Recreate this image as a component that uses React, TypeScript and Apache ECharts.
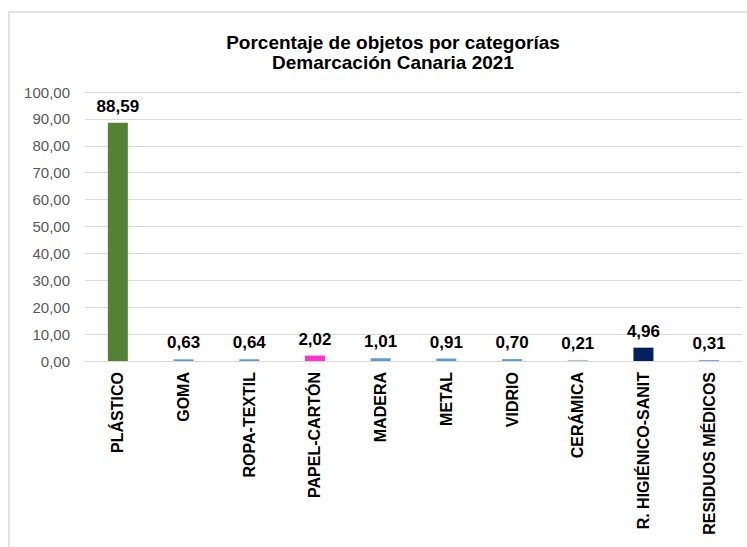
import React, { useEffect, useRef } from "react";
import * as echarts from "echarts";

const categories = [
  "PLÁSTICO",
  "GOMA",
  "ROPA-TEXTIL",
  "PAPEL-CARTÓN",
  "MADERA",
  "METAL",
  "VIDRIO",
  "CERÁMICA",
  "R. HIGIÉNICO-SANIT",
  "RESIDUOS MÉDICOS",
];
const values = [88.59, 0.63, 0.64, 2.02, 1.01, 0.91, 0.7, 0.21, 4.96, 0.31];
const barColors = [
  "#548235",
  "#5B9BD5",
  "#5B9BD5",
  "#FF33CC",
  "#5B9BD5",
  "#5B9BD5",
  "#5B9BD5",
  "#5B9BD5",
  "#002060",
  "#5B9BD5",
];
const titleLines = ["Porcentaje de objetos por categorías", "Demarcación Canaria 2021"];

const fmt = (v: number) => v.toFixed(2).replace(".", ",");
const FONT = "Liberation Sans, Arial, sans-serif";

export default function App() {
  const ref = useRef<HTMLDivElement>(null);
  useEffect(() => {
    if (!ref.current) return;
    const chart = echarts.init(ref.current, null, { renderer: "svg" });
    chart.setOption({
      animation: false,
      backgroundColor: "#ffffff",
      textStyle: { fontFamily: FONT },
      title: {
        text: titleLines.join("\n"),
        left: 388,
        textAlign: "center",
        top: 27,
        textStyle: {
          fontSize: 19,
          fontWeight: "bold",
          color: "#000000",
          lineHeight: 20,
          fontFamily: FONT,
        },
      },
      graphic: [
        {
          type: "rect",
          shape: { x: 9, y: 12, width: 800, height: 600 },
          style: { fill: "none", stroke: "#d9d9d9", lineWidth: 1.5 },
          silent: true,
        },
      ],
      grid: { left: 85, right: 5, top: 92, bottom: 186, containLabel: false },
      xAxis: {
        type: "category",
        data: categories,
        axisLine: { show: true, lineStyle: { color: "#d9d9d9" } },
        axisTick: { show: false },
        axisLabel: {
          rotate: 90,
          interval: 0,
          margin: 11,
          fontSize: 16,
          fontWeight: "bold",
          color: "#000000",
          fontFamily: FONT,
        },
      },
      yAxis: {
        type: "value",
        min: 0,
        max: 100,
        interval: 10,
        axisLine: { show: false },
        axisTick: { show: false },
        splitLine: { lineStyle: { color: "#d9d9d9", width: 1 } },
        axisLabel: {
          margin: 15,
          fontSize: 15,
          color: "#595959",
          formatter: (v: number) => fmt(v),
          fontFamily: FONT,
        },
      },
      series: [
        {
          type: "bar",
          barWidth: 20,
          data: values.map((v, i) => ({ value: v, itemStyle: { color: barColors[i] } })),
          label: {
            show: true,
            position: "top",
            distance: 8,
            fontSize: 17,
            fontWeight: "bold",
            color: "#000000",
            formatter: (p: any) => fmt(p.value),
            fontFamily: FONT,
          },
        },
      ],
    });
    return () => chart.dispose();
  }, []);
  return (
    <div
      ref={ref}
      style={{ position: "fixed", left: 0, top: 0, width: 747, height: 547 }}
    />
  );
}
